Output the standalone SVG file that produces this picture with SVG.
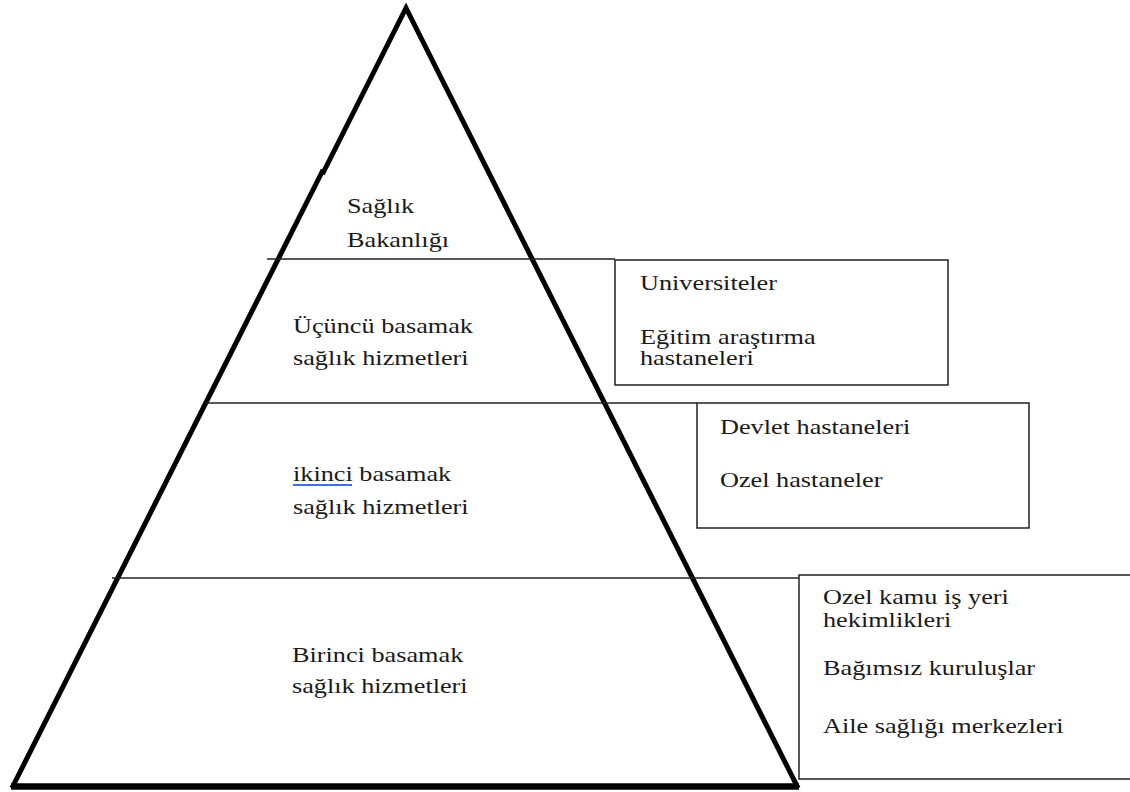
<svg xmlns="http://www.w3.org/2000/svg" width="1130" height="792" viewBox="0 0 1130 792">
<style>
  text { font-family: 'Times New Roman', 'Liberation Serif', 'DejaVu Serif', serif; font-size: 21px; fill: #1a1a1a; }
  .side { fill: none; stroke: #000; stroke-width: 5; stroke-linejoin: miter; stroke-linecap: square; }
  .base { fill: none; stroke: #000; stroke-width: 6.5; }
  .div { stroke: #222; stroke-width: 1.5; fill: none; }
  .box { fill: #fff; stroke: #222; stroke-width: 1.5; }
</style>
<rect width="1130" height="792" fill="#fff"/>

<g id="pyramid">
  <path class="side" d="M322,172 L13,786 M323.5,172 L406,8 L797,786"/>
  <line class="base" x1="11" y1="786.5" x2="799" y2="786.5"/>
</g>

<g id="connectors">
  <line class="div" x1="267" y1="259" x2="615" y2="259"/>
  <line class="div" x1="205" y1="403" x2="697" y2="403"/>
  <line class="div" x1="112" y1="578" x2="799" y2="578"/>
</g>

<g id="level-bakanlik">
  <text transform="translate(347 213) scale(1.25 1)">Sağlık</text>
  <text transform="translate(347 247) scale(1.25 1)">Bakanlığı</text>
</g>

<g id="level-ucuncu">
  <text transform="translate(293 333) scale(1.25 1)">Üçüncü basamak</text>
  <text transform="translate(293 365) scale(1.25 1)">sağlık hizmetleri</text>
</g>

<g id="level-ikinci">
  <text transform="translate(293 481) scale(1.25 1)">ikinci basamak</text>
  <rect x="293" y="484" width="59" height="2" fill="#3f6fe6"/>
  <text transform="translate(293 514) scale(1.25 1)">sağlık hizmetleri</text>
</g>

<g id="level-birinci">
  <text transform="translate(292 662) scale(1.25 1)">Birinci basamak</text>
  <text transform="translate(292 693) scale(1.25 1)">sağlık hizmetleri</text>
</g>

<g id="box-ucuncu">
  <rect class="box" x="615" y="260" width="333" height="125"/>
  <text transform="translate(640 290) scale(1.25 1)">Universiteler</text>
  <text transform="translate(640 344) scale(1.25 1)">Eğitim araştırma</text>
  <text transform="translate(640 365) scale(1.25 1)">hastaneleri</text>
</g>

<g id="box-ikinci">
  <rect class="box" x="697" y="403" width="332" height="125"/>
  <text transform="translate(720 434) scale(1.25 1)">Devlet hastaneleri</text>
  <text transform="translate(720 487) scale(1.25 1)">Ozel hastaneler</text>
</g>

<g id="box-birinci">
  <rect class="box" x="799" y="575" width="340" height="204"/>
  <text transform="translate(823 604) scale(1.25 1)">Ozel kamu iş yeri</text>
  <text transform="translate(823 627) scale(1.25 1)">hekimlikleri</text>
  <text transform="translate(823 675) scale(1.25 1)">Bağımsız kuruluşlar</text>
  <text transform="translate(823 733) scale(1.25 1)">Aile sağlığı merkezleri</text>
</g>
</svg>
